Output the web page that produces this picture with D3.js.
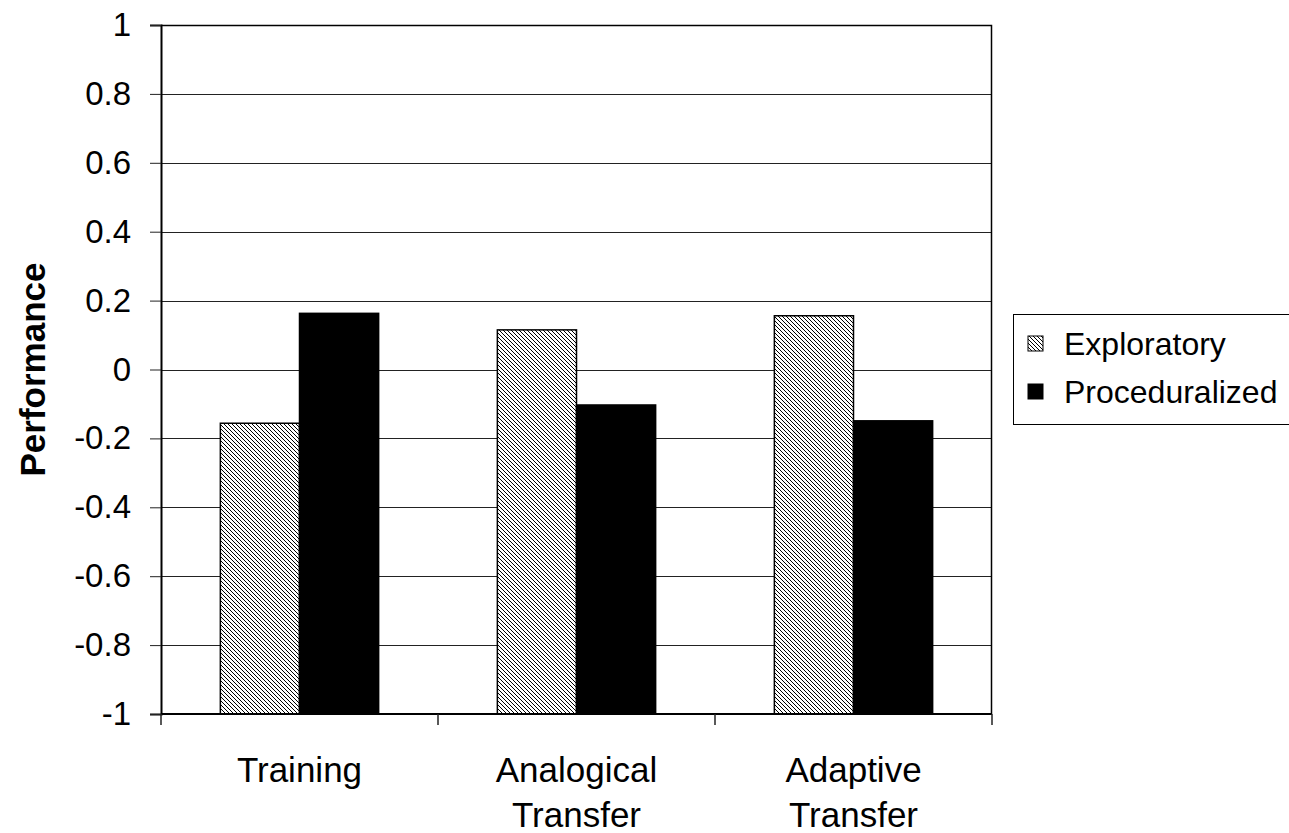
<!DOCTYPE html>
<html>
<head>
<meta charset="utf-8">
<script src="https://cdn.jsdelivr.net/npm/d3@7"></script>
<style>
  body { margin: 0; background: #fff; }
  svg { display: block; font-family: "Liberation Sans", Arial, sans-serif; }
</style>
</head>
<body>
<svg id="chart" width="1289" height="833"></svg>
<script>
// data
const categories = ["Training", "Analogical Transfer", "Adaptive Transfer"];
const categoryLines = [["Training"], ["Analogical", "Transfer"], ["Adaptive", "Transfer"]];
const seriesNames = ["Exploratory", "Proceduralized"];
const exploratory = [-0.156, 0.115, 0.156];
const proceduralized = [0.163, -0.103, -0.149];
const yTicks = [-1, -0.8, -0.6, -0.4, -0.2, 0, 0.2, 0.4, 0.6, 0.8, 1];
const yTickLabels = ["-1", "-0.8", "-0.6", "-0.4", "-0.2", "0", "0.2", "0.4", "0.6", "0.8", "1"];

let margin = { top: 25, left: 161, right: 297, bottom: 119 },
    width = 1289 - margin.left - margin.right,
    height = 833 - margin.top - margin.bottom;

let svg = d3.select("#chart");

// hatch pattern for Exploratory
let defs = svg.append("defs");
let pat = defs.append("pattern")
    .attr("id", "hatch")
    .attr("patternUnits", "userSpaceOnUse")
    .attr("width", 4).attr("height", 4);
pat.append("rect").attr("width", 4).attr("height", 4).attr("fill", "#fff");
pat.append("path")
    .attr("d", "M-1,-1 L5,5 M-1,3 L1,5 M3,-1 L5,1")
    .attr("stroke", "#000").attr("stroke-width", 1);

let fills = { "Exploratory": "url(#hatch)", "Proceduralized": "#000" };

let g = svg.append("g")
    .attr("transform", "translate(" + margin.left + "," + margin.top + ")");

let y = d3.scaleLinear().domain([-1, 1]).range([height, 0]);
let x0 = d3.scaleBand().domain(categories).range([0, width]);
let x1 = d3.scaleBand().domain(seriesNames).range([0, x0.bandwidth()]).paddingOuter(0.75);

// gridlines
g.append("g")
  .selectAll("line")
  .data(yTicks.filter(d => d !== -1))
  .enter().append("line")
    .attr("x1", 0).attr("x2", width)
    .attr("y1", d => Math.round(y(d)) + 0.5)
    .attr("y2", d => Math.round(y(d)) + 0.5)
    .attr("stroke", "#222")
    .attr("stroke-width", 1);

// bars (baseline at the axis minimum, like the original)
let rows = categories.map((c, i) => ({ cat: c, values: [
  { name: "Exploratory", v: exploratory[i] },
  { name: "Proceduralized", v: proceduralized[i] }
]}));

g.selectAll(".grp")
  .data(rows)
  .enter().append("g")
    .attr("class", "grp")
    .attr("transform", d => "translate(" + x0(d.cat) + ",0)")
  .selectAll("rect")
  .data(d => d.values)
  .enter().append("rect")
    .attr("x", d => x1(d.name))
    .attr("y", d => y(d.v))
    .attr("width", x1.bandwidth())
    .attr("height", d => y(-1) - y(d.v))
    .attr("fill", d => fills[d.name])
    .attr("stroke", "#000")
    .attr("stroke-width", 1.5);

// plot border (top and right)
g.append("path")
    .attr("d", "M0,0.5 H" + (width - 0.5) + " V" + height)
    .attr("fill", "none")
    .attr("stroke", "#000")
    .attr("stroke-width", 1.5);

// y axis
let yAxis = g.append("g")
    .call(d3.axisLeft(y).tickValues(yTicks).tickFormat((d, i) => yTickLabels[i]).tickSize(11).tickPadding(19));
yAxis.select(".domain").attr("stroke-width", 2);
yAxis.selectAll(".tick line").attr("stroke", "#222");
yAxis.selectAll("text")
    .attr("font-size", 33)
    .attr("font-family", "Liberation Sans, Arial, sans-serif")
    .attr("fill", "#000");

// x axis with ticks at category boundaries
let xAxisG = g.append("g").attr("transform", "translate(0," + height + ")");
xAxisG.append("line")
    .attr("x1", 0).attr("x2", width)
    .attr("stroke", "#000").attr("stroke-width", 2);
xAxisG.selectAll(".bt")
  .data(categories.concat(["end"]))
  .enter().append("line")
    .attr("class", "bt")
    .attr("x1", d => d === "end" ? width : x0(d))
    .attr("x2", d => d === "end" ? width : x0(d))
    .attr("y1", 0).attr("y2", 11)
    .attr("stroke", "#222").attr("stroke-width", 1.5);

let labels = xAxisG.selectAll(".cl")
  .data(categories)
  .enter().append("text")
    .attr("class", "cl")
    .attr("x", d => x0(d) + x0.bandwidth() / 2)
    .attr("y", 68)
    .attr("text-anchor", "middle")
    .attr("font-size", 35)
    .attr("fill", "#000");
labels.each(function(d, i) {
  let t = d3.select(this);
  categoryLines[i].forEach((ln, j) => {
    t.append("tspan")
      .attr("x", x0(d) + x0.bandwidth() / 2)
      .attr("dy", j === 0 ? 0 : 45)
      .text(ln);
  });
});

// y axis title
svg.append("text")
    .attr("transform", "translate(45," + (margin.top + height / 2) + ") rotate(-90)")
    .attr("text-anchor", "middle")
    .attr("font-size", 35)
    .attr("font-weight", "bold")
    .attr("fill", "#000")
    .text("Performance");

// legend
let legend = svg.append("g").attr("transform", "translate(1013,314)");
legend.append("rect")
    .attr("x", 0.5).attr("y", 0.5)
    .attr("width", 300).attr("height", 110)
    .attr("fill", "#fff")
    .attr("stroke", "#000").attr("stroke-width", 1);
let li = legend.selectAll(".li")
  .data(seriesNames)
  .enter().append("g")
    .attr("class", "li")
    .attr("transform", (d, i) => "translate(0," + (30 + i * 48) + ")");
li.append("rect")
    .attr("x", 15).attr("y", -8)
    .attr("width", 15).attr("height", 15)
    .attr("fill", d => fills[d])
    .attr("stroke", "#000").attr("stroke-width", 1);
li.append("text")
    .attr("x", 51).attr("y", 0)
    .attr("dy", "0.35em")
    .attr("font-size", 32)
    .attr("fill", "#000")
    .text(d => d);
</script>
</body>
</html>
